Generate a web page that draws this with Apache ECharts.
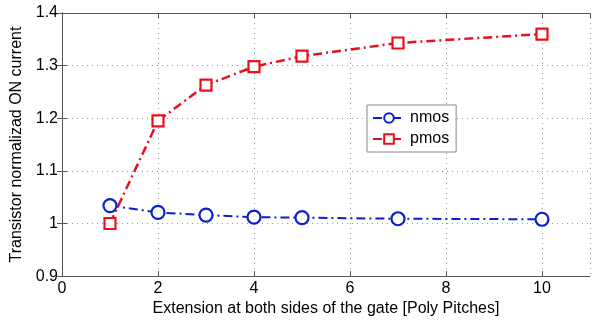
<!DOCTYPE html>
<html><head><meta charset="utf-8">
<script src="https://cdn.jsdelivr.net/npm/echarts@6/dist/echarts.min.js"></script>
<style>html,body{margin:0;padding:0;background:#fff}#c{width:600px;height:322px}</style>
</head><body><div id="c"></div>
<script>
const xValues = [1, 2, 3, 4, 5, 7, 10];
const nmos = [1.034, 1.021, 1.016, 1.012, 1.011, 1.009, 1.008];
const pmos = [1.000, 1.195, 1.263, 1.298, 1.318, 1.343, 1.360];
const seriesNames = ['nmos', 'pmos'];
const xTicks = [0, 2, 4, 6, 8, 10];
const yTicks = [0.9, 1.0, 1.1, 1.2, 1.3, 1.4];

const font = 'Liberation Sans, Arial, sans-serif';
const chart = echarts.init(document.getElementById('c'));
const pair = (ys) => xValues.map((x, i) => [x, ys[i]]);
const dashDot = [9, 4, 2, 4];
const txt = {fontFamily: font, fontSize: 16, color: '#000'};
const axisCommon = {
  axisLine: {lineStyle: {color: '#555', width: 1}},
  axisTick: {inside: true, length: 5, lineStyle: {color: '#555'}},
};
chart.setOption({
  animation: false,
  grid: {left: 62, right: 10, top: 13, bottom: 40, show: false},
  legend: {
    data: seriesNames, orient: 'vertical', left: 367, top: 105,
    itemWidth: 32, itemHeight: 12, itemGap: 5,
    padding: [5, 7, 5, 5], borderColor: '#888', borderWidth: 1, backgroundColor: '#fff',
    textStyle: {...txt}
  },
  xAxis: [{
    type: 'value', min: 0, max: 11, interval: 2, ...axisCommon,
    name: 'Extension at both sides of the gate [Poly Pitches]', nameLocation: 'middle', nameGap: 22,
    nameTextStyle: {...txt},
    axisLabel: {...txt, margin: 4, showMaxLabel: false,
      formatter: v => xTicks.includes(v) ? String(v) : ''},
    splitLine: {show: true, lineStyle: {color: '#999', type: [1, 4]}}
  }, {
    type: 'value', position: 'top', min: 0, max: 11, interval: 2, ...axisCommon,
    axisLabel: {show: false}, splitLine: {show: false}
  }],
  yAxis: [{
    type: 'value', min: 0.9, max: 1.4, interval: 0.1, ...axisCommon,
    name: 'Transistor normalizad ON current', nameLocation: 'middle', nameGap: 32,
    nameTextStyle: {...txt},
    axisLabel: {...txt, margin: 4,
      formatter: v => { const t = yTicks.find(k => Math.abs(k - v) < 1e-6); return t === undefined ? '' : String(+t.toFixed(1)); }},
    splitLine: {show: true, lineStyle: {color: '#999', type: [1, 4]}}
  }, {
    type: 'value', position: 'right', min: 0.9, max: 1.4, interval: 0.1, ...axisCommon,
    axisLabel: {show: false}, splitLine: {show: false}
  }],
  series: [{
    name: seriesNames[0], type: 'line', data: pair(nmos),
    symbol: 'circle', symbolSize: 13,
    itemStyle: {color: '#fff', borderColor: '#0a1fd0', borderWidth: 2.2},
    lineStyle: {color: '#0a1fd0', width: 2, type: dashDot}
  }, {
    name: seriesNames[1], type: 'line', data: pair(pmos),
    symbol: 'rect', symbolSize: 11,
    itemStyle: {color: '#fff', borderColor: '#e8101c', borderWidth: 2.2},
    lineStyle: {color: '#e8101c', width: 2.5, type: dashDot}
  }]
});
</script></body></html>
